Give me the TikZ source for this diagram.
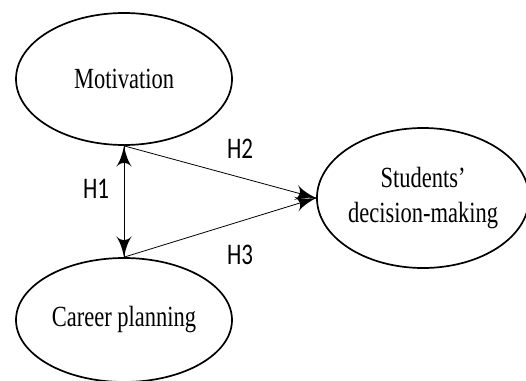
\documentclass[tikz,border=0pt]{standalone}
\usepackage{fontspec}
\usepackage{graphicx}
\setmainfont{Liberation Serif}
\newfontfamily\hypfont{Carlito}
\usetikzlibrary{arrows}
\usetikzlibrary{decorations.markings}
\usetikzlibrary{shapes.geometric}
\newcommand{\tall}[1]{\scalebox{1}[1.3]{#1}}
\tikzset{construct/.style = {ellipse, draw, line width=1.7pt, inner sep=0pt,
                             font=\fontsize{22.5}{35}\selectfont, align=center},
         hyplabel/.style = {font=\hypfont\fontsize{23}{26}\selectfont},
         onearrow/.style = {line width=0.8pt, decoration={markings,
                                  mark=at position 1 with {\arrow[scale=4]{latex'}}},
                            postaction={decorate}},
         twoarrow/.style = {line width=0.8pt, decoration={markings,
                                  mark=at position 0 with {\arrowreversed[scale=4]{latex'}},
                                  mark=at position 1 with {\arrow[scale=4]{latex'}}},
                            postaction={decorate}}}

\begin{document}
\begin{tikzpicture}[x=1pt,y=-1pt]
    \useasboundingbox (0,0) rectangle (526,380);
    \clip (0,0) rectangle (526,380);
    \node [construct, minimum width=216pt, minimum height=132pt] (mot) at (124,79) {\tall{Motivation}};
    \node [construct, minimum width=216pt, minimum height=124pt] (car) at (124,320) {\tall{Career planning}};
    \node [construct, minimum width=204pt, minimum height=140pt] (stu) at (423,198) {\tall{Students'}\\\tall{decision-making}};
    \draw [twoarrow] (mot.south) -- (car.north);
    \draw [onearrow] (mot.south) -- (stu.west);
    \draw [onearrow] (car.north) -- (stu.west);
    \node [hyplabel] (h1) at (96,189) {\tall{H1}};
    \node [hyplabel] (h2) at (240,149) {\tall{H2}};
    \node [hyplabel] (h3) at (240,255) {\tall{H3}};
\end{tikzpicture}
\end{document}
